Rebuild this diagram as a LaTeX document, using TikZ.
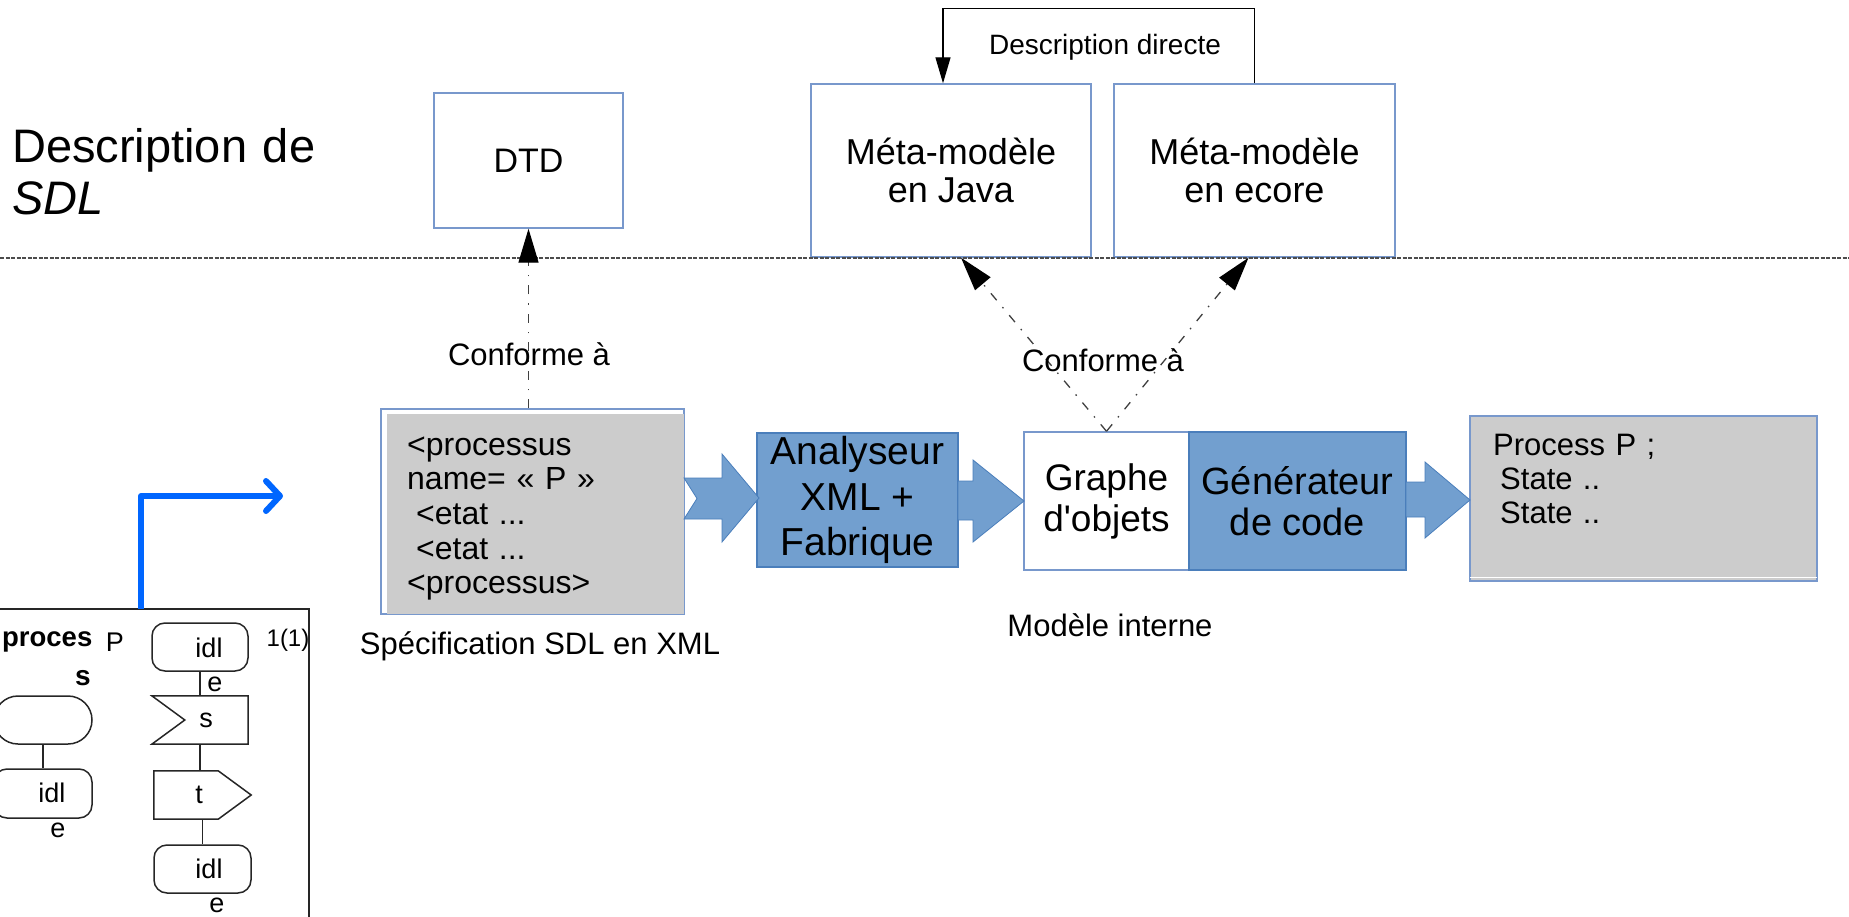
\documentclass[tikz,border=0pt]{standalone}
\usepackage{fontspec}
\setmainfont{Liberation Sans}[Ligatures=TeXOff]
\usetikzlibrary{arrows.meta,calc}

\definecolor{boxline}{RGB}{120,152,204}
\definecolor{bluefill}{RGB}{114,159,207}
\definecolor{blueline}{RGB}{74,126,187}
\definecolor{grayfill}{RGB}{204,204,204}
\definecolor{lblue}{RGB}{0,102,255}
\newcommand\fsz[2]{\fontsize{#1}{#2}\selectfont}

\tikzset{
  wbox/.style={draw=boxline, line width=1.4pt, fill=white, inner sep=0pt},
  bbox/.style={draw=blueline, line width=1.2pt, fill=bluefill, inner sep=0pt},
  gbox/.style={draw=boxline, line width=1.4pt, fill=grayfill, inner sep=0pt},
  conf/.style={draw=black!75, line width=1.3pt, dash pattern=on 9pt off 9pt on 1.5pt off 9pt,
               -{Triangle[length=34pt,width=20pt,color=black]}},
  blockarrow/.style={fill=bluefill, draw=blueline, line width=0.8pt, line join=miter},
  sdl/.style={draw=black!85, line width=1.5pt, inner sep=0pt},
  sdlline/.style={draw=black!85, line width=1.5pt},
  sdltext/.style={font=\fsz{27}{30}, inner sep=0pt},
  lbl/.style={font=\fsz{31}{34}, inner sep=0pt},
}

\begin{document}
\begin{tikzpicture}[x=1pt,y=-1pt]
\useasboundingbox (0,0) rectangle (1849,917);
\clip (0,0) rectangle (1849,917);

% title
\node[anchor=base west, text width=340pt, align=left, inner sep=0pt, font=\fsz{47}{52}] (title) at (12,163) {Description de\\\textit{SDL}};

% top boxes
\node[wbox, minimum width=189pt, minimum height=135pt, font=\fsz{34}{38}] (dtd) at (528.5,160.5) {DTD};
\node[wbox, minimum width=280pt, minimum height=173pt, font=\fsz{36}{38}, align=center] (java) at (951,170.5) {Méta-modèle\\en Java};
\node[wbox, minimum width=281pt, minimum height=173pt, font=\fsz{36}{38}, align=center] (ecore) at (1254.5,170.5) {Méta-modèle\\en ecore};

% description directe
\draw[line width=1.3pt, -{Triangle[length=26pt,width=15pt]}] (ecore.north) -- ++(0,-75) -| ([xshift=-8pt]java.north);
\node[font=\fsz{28}{30}, inner sep=0pt] (dd) at (1105,47) {Description directe};

% separator
\draw[black!70, line width=1.5pt, dash pattern=on 4pt off 1.5pt] (0,258) -- (1849,258);

% XML box
\node[wbox, minimum width=303pt, minimum height=205pt] (xml) at (532.5,511.5) {};
\fill[grayfill] ($(xml.north west)+(7,6)$) rectangle ($(xml.south east)+(-1,-1)$);
\node[anchor=base west, text width=270pt, align=left, inner sep=0pt, font=\fsz{32}{34.7}] (xmltext) at (407,455)
  {<processus\\name= « P »\\\hspace*{9pt}<etat ...\\\hspace*{9pt}<etat ...\\<processus>};
\node[lbl] (spec) at (540,646) {Spécification SDL en XML};

% Analyseur
\node[bbox, minimum width=201pt, minimum height=134pt, font=\fsz{39}{45.5}, align=center] (ana) at (857.5,500) {Analyseur\\XML +\\Fabrique};

% Graph + generator
\node[wbox, minimum width=165pt, minimum height=138pt, font=\fsz{37}{41}, align=center] (graph) at (1106.5,501) {Graphe\\d'objets};
\node[bbox, minimum width=217pt, minimum height=138pt, font=\fsz{38}{41}, align=center] (gen) at (1297.5,501) {Générateur\\de code};
\node[lbl] (mi) at (1110,625) {Modèle interne};

% output box
\node[gbox, minimum width=347pt, minimum height=165pt] (out) at (1643.5,498.5) {};
\draw[white, line width=1.5pt] ($(out.south west)+(1,-4)$) -- ($(out.south east)+(-1,-4)$);
\node[anchor=base west, text width=300pt, align=left, inner sep=0pt, font=\fsz{31}{34}] (outtext) at (1493,455)
  {Process P ;\\\hspace*{7pt}State ..\\\hspace*{7pt}State ..};

% block arrows
\draw[blockarrow] (684,478) -- (722,478) -- (722,454) -- (759,498) -- (722,542) -- (722,519) -- (684,519) -- (697,498.5) -- cycle;
\draw[blockarrow] (958,481) -- (973,481) -- (973,460) -- (1024,501) -- (973,542) -- (973,520) -- (958,520) -- cycle;
\draw[blockarrow] (1406,482) -- (1425,482) -- (1425,462) -- (1470,500) -- (1425,538) -- (1425,517) -- (1406,517) -- cycle;

% conforme arrows
\draw[conf] (dtd.south |- xml.north) -- (dtd.south);
\node[lbl] (conf1) at (529,354) {Conforme à};
\draw[conf] (graph.north) -- ([xshift=10pt]java.south);
\draw[conf] (graph.north) -- ([xshift=-6pt]ecore.south);
\node[lbl] (conf2) at (1103,360) {Conforme à};

% SDL frame
\draw[black!85, line width=1.5pt] (-5,609) -- (309,609) -- (309,925);
\coordinate (ftop) at (141,609);
\coordinate (lend) at (283,496);
\draw[lblue, line width=6pt, line join=round, -{Straight Barb[length=14pt,width=30pt,line cap=round,line join=round]}] (ftop) |- (lend);

\node[anchor=east, font=\bfseries\fsz{27.5}{31}, inner sep=0pt] (proc1) at (92.5,642) {proces};
\node[font=\bfseries\fsz{28}{31}, inner sep=0pt] (proc2) at (83,678) {s};
\node[sdltext] (pname) at (115,642) {P};
\node[font=\fsz{24}{26}, inner sep=0pt] (page) at (288,640) {1(1)};

\node[sdl, rounded corners=24pt, minimum width=98pt, minimum height=48pt] (start) at (43,720) {};
\node[sdl, rounded corners=13pt, minimum width=98pt, minimum height=49pt] (st1) at (43,793.5) {};
\node[sdltext] (st1a) at (52,793) {idl};
\node[sdltext] (st1b) at (58,830) {e};
\draw[sdlline] (start.south) -- (st1.north);

\node[sdl, rounded corners=13pt, minimum width=96pt, minimum height=48pt] (st2) at (200,647) {};
\node[sdltext] (st2a) at (209,648) {idl};
\node[sdltext] (st2b) at (215,684) {e};
\node[minimum width=96pt, minimum height=48pt, inner sep=0pt] (inp) at (200,720) {};
\draw[sdlline] (inp.north west) -- (inp.north east) -- (inp.south east) -- (inp.south west) -- ($(inp.west)+(33,0)$) -- cycle;
\node[sdltext] (inpa) at (206,720) {s};
\node[minimum width=97pt, minimum height=48pt, inner sep=0pt] (outp) at (202.5,795) {};
\draw[sdlline] (outp.north west) -- ($(outp.north east)+(-33,0)$) -- (outp.east) -- ($(outp.south east)+(-33,0)$) -- (outp.south west) -- cycle;
\node[sdltext] (outpa) at (199,795) {t};
\node[sdl, rounded corners=13pt, minimum width=97pt, minimum height=48pt] (st3) at (202.5,869) {};
\node[sdltext] (st3a) at (209,869) {idl};
\node[sdltext] (st3b) at (217,905) {e};
\draw[sdlline] (st2.south) -- (inp.north);
\draw[sdlline] (inp.south) -- (inp.south |- outp.north);
\draw[sdlline] (outp.south) -- (outp.south |- st3.north);
\end{tikzpicture}
\end{document}
